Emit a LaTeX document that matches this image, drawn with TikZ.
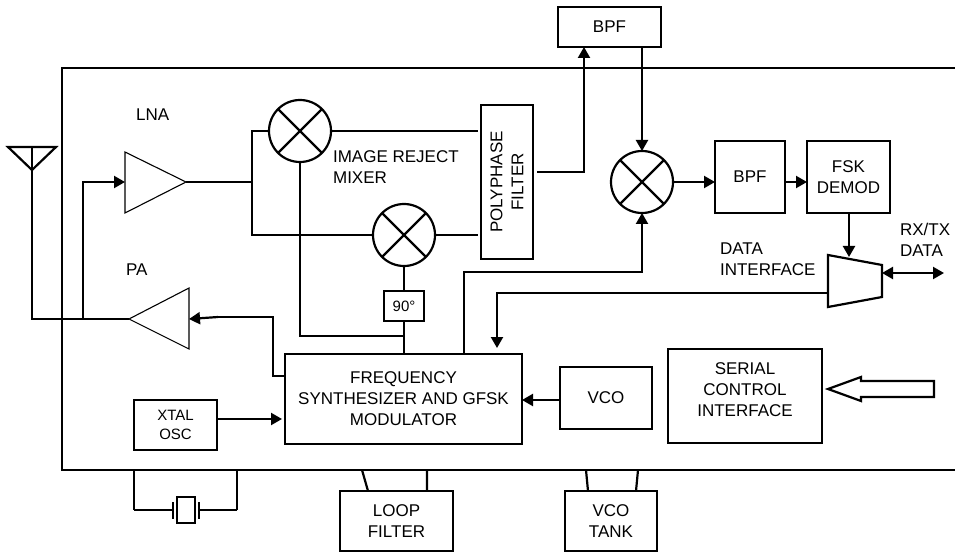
\documentclass[tikz,border=0pt]{standalone}
\usepackage{fontspec}
\setmainfont{Liberation Sans}
\usetikzlibrary{arrows.meta,positioning}
\begin{document}
\begin{tikzpicture}[x=1pt,y=-1pt,line width=2.2pt,
box/.style={draw,line width=2.2pt,align=center,font=\fontsize{17}{21}\selectfont,inner sep=0pt,outer sep=0pt,anchor=north west},
lbl/.style={align=left,font=\fontsize{17}{21}\selectfont,inner sep=0pt,anchor=north west},
mix/.style={draw,line width=2.2pt,circle,minimum size=62pt,inner sep=0pt,outer sep=0pt,path picture={\draw[line width=2.2pt] (path picture bounding box.south west)--(path picture bounding box.north east) (path picture bounding box.north west)--(path picture bounding box.south east);}},
amp/.style={line width=1.1pt},
a/.style={-{Triangle[length=11pt,width=12pt]}},
aa/.style={{Triangle[length=11pt,width=12pt]}-{Triangle[length=11pt,width=12pt]}}]
\useasboundingbox (0,0) rectangle (955,553);
% outer frame
\coordinate (tl) at (62,68);
\coordinate (tr) at (955,68);
\coordinate (bl) at (62,470);
\coordinate (br) at (955,470);
\draw (tr)--(tl)--(bl)--(br);
% blocks
\node[box,minimum width=103pt,minimum height=40pt] (bpfa) at (558,7) {BPF};
\node[box,minimum width=52pt,minimum height=154pt] (poly) at (481,105) {};
\node[align=center,rotate=90,font=\fontsize{17}{21}\selectfont,inner sep=0pt] (polyt) at (poly.center) {POLYPHASE\\FILTER};
\node[box,minimum width=40pt,minimum height=30pt,font=\fontsize{15}{16}\selectfont] (shift) at (384,291) {90°};
\node[box,minimum width=70pt,minimum height=72pt] (bpfb) at (715,141) {BPF};
\node[box,minimum width=83pt,minimum height=72pt] (fsk) at (807,141) {FSK\\DEMOD};
\node[box,minimum width=237pt,minimum height=90pt] (syn) at (285,354) {FREQUENCY\\SYNTHESIZER AND GFSK\\MODULATOR};
\node[box,minimum width=83pt,minimum height=50pt,font=\fontsize{15}{19}\selectfont] (xtal) at (134,400) {XTAL\\OSC};
\node[box,minimum width=92pt,minimum height=62pt] (vco) at (560,367) {VCO};
\node[box,minimum width=154pt,minimum height=94pt] (ser) at (668,349) {};
\node[align=center,font=\fontsize{17}{21}\selectfont,inner sep=0pt] (sert) at (745,390) {SERIAL\\CONTROL\\INTERFACE};
\node[box,minimum width=113pt,minimum height=60pt] (loop) at (340,491) {LOOP\\FILTER};
\node[box,minimum width=92pt,minimum height=60pt] (tank) at (565,491) {VCO\\TANK};
% mixers
\node[mix] (mixa) at (300,131) {};
\node[mix] (mixb) at (404,235) {};
\node[mix] (mixc) at (642,182) {};
% amplifiers
\coordinate (lnain) at (125,182);
\coordinate (lnaout) at (186,182);
\coordinate (pain) at (189,319);
\coordinate (paout) at (129,319);
\draw[amp] (125,152)--(lnaout)--(125,213)--cycle;
\draw[amp] (189,288)--(paout)--(189,349)--cycle;
% data interface
\coordinate (muxe) at (882,273);
\coordinate (muxw) at (828,293);
\draw (828,255)--(882,265)--(882,297)--(828,307)--cycle;
% antenna
\coordinate (ant) at (32,170);
\coordinate (anttop) at (32,147);
\coordinate (tee) at (83,319);
\draw (8,147)--(56,147)--(ant)--cycle;
\draw (anttop)--(32,319)--(paout);
\draw[a] (tee)--(83,182)--(lnain);
% mixer wiring
\coordinate (split) at (252,182);
\coordinate (polya) at (478,131);
\coordinate (polyb) at (478,235);
\coordinate (polyout) at (537,172);
\draw (lnaout)--(split);
\draw (mixa.west)--(252,131)--(252,235)--(mixb.west);
\draw (mixa.east)--(polya);
\draw (mixb.east)--(polyb);
\draw (mixa.south)--(300,336)--(404,336);
\draw (mixb.south)--(shift.north);
\draw (shift.south)--(shift.south|-syn.north);
% if path
\draw[a] (polyout)--(584,172)--(584,47);
\draw[a] (642,47)--(mixc.north);
\draw[a] (mixc.east)--(mixc.east-|bpfb.west);
\draw[a] (bpfb.east|-mixc.east)--(fsk.west|-mixc.east);
\draw[a] (849,213)--(849,257);
\coordinate (rxtx) at (944,273);
\draw[aa] (muxe)--(rxtx);
\draw[a] (muxw)--(497,293)--(497,348);
\draw[a] (464,354)--(464,272)--(642,272)--(mixc.south);
% synthesizer inputs
\draw[a] (vco.west|-0,400)--(syn.east|-0,400);
\draw[a] (xtal.east|-0,419)--(282,419);
\draw (285,376)--(273,376)--(273,317)--(218,317);
\draw[a] (218,317)--(pain);
% serial arrow
\draw (934,381)--(934,397)--(861,397)--(861,401)--(828,389)--(861,377)--(861,381)--cycle;
% crystal
\coordinate (xa) at (134,470);
\coordinate (xb) at (237,470);
\node[draw,line width=1.1pt,minimum width=18pt,minimum height=26pt,inner sep=0pt] (xt) at (186,510) {};
\draw (xa)--(134,510) (xb)--(237,510);
\draw[line width=1.1pt] (134,510)--(173,510) (173,502)--(173,519);
\draw[line width=1.1pt] (237,510)--(199,510) (199,502)--(199,519);
% pins
\draw (362,470)--(368,491) (427,470)--(427,491);
\draw (586,470)--(588,491) (638,470)--(636,491);
% labels
\node[lbl] (tlna) at (135,108) {LNA};
\node[lbl] (tpa) at (125,263) {PA};
\node[lbl] (timg) at (332,150) {IMAGE REJECT\\MIXER};
\node[lbl] (tdata) at (719,242) {DATA\\INTERFACE};
\node[lbl] (trx) at (899,222) {RX/TX\\DATA};
\end{tikzpicture}
\end{document}
